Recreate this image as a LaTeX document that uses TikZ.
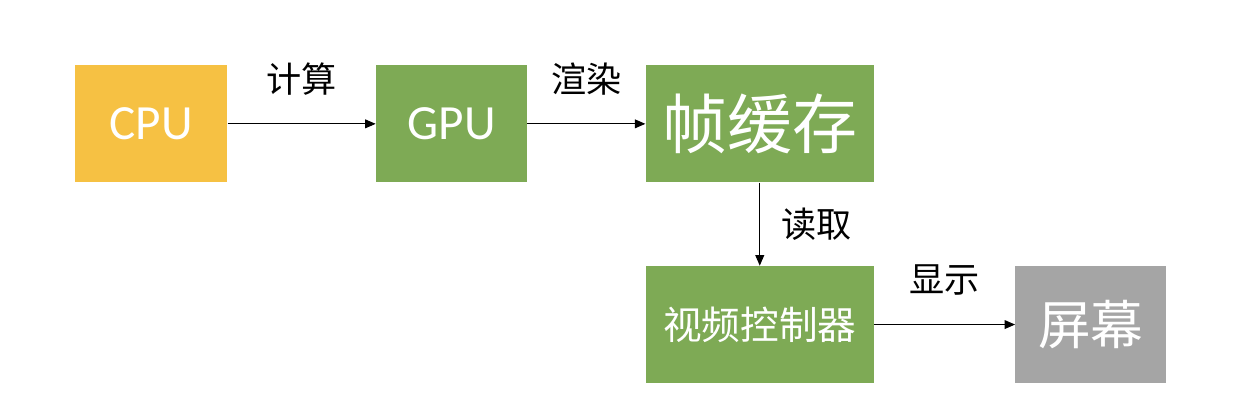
\documentclass[tikz,border=0pt]{standalone}
\usepackage{fontspec}
\setmainfont{Carlito}
\newfontfamily\cjk{Noto Sans CJK SC}
\usetikzlibrary{arrows.meta,positioning}
\definecolor{cpuorange}{RGB}{246,193,67}
\definecolor{stagegreen}{RGB}{126,170,85}
\definecolor{screengray}{RGB}{165,165,165}

\tikzset{
    stagebox/.style={rectangle, minimum height=2.34cm, inner sep=0pt, text=white},
    flow/.style={-{Triangle[length=6pt,width=5pt]}, line width=0.6pt},
    flowlabel/.style={font=\cjk\fontsize{20}{20}\selectfont}
}

\begin{document}
\begin{tikzpicture}
                \useasboundingbox (0,0) rectangle (25,-8.2);
                \node[stagebox, fill=cpuorange, minimum width=3.04cm, anchor=north west,
                      font=\fontsize{28}{28}\selectfont] (cpu) at (1.5,-1.3) {CPU};
                \node[stagebox, fill=stagegreen, minimum width=3.02cm, right=2.96cm of cpu,
                      font=\fontsize{28}{28}\selectfont] (gpu) {GPU};
                \node[stagebox, fill=stagegreen, minimum width=4.56cm, right=2.36cm of gpu,
                      font=\cjk\fontsize{37}{37}\selectfont] (framebuf) {帧缓存};
                \node[stagebox, fill=stagegreen, minimum width=4.56cm, below=1.66cm of framebuf,
                      font=\cjk\fontsize{22}{22}\selectfont] (videoctl) {视频控制器};
                \node[stagebox, fill=screengray, minimum width=3.02cm, right=2.82cm of videoctl,
                      font=\cjk\fontsize{30}{30}\selectfont] (screen) {屏幕};

                \draw[flow] (cpu) -- node[flowlabel, above=0.45cm] (calc) {计算} (gpu);
                \draw[flow] (gpu) -- node[flowlabel, above=0.45cm] (render) {渲染} (framebuf);
                \draw[flow] (framebuf) -- node[flowlabel, right=0.3cm] (readout) {读取} (videoctl);
                \draw[flow] (videoctl) -- node[flowlabel, above=0.45cm] (display) {显示} (screen);
        \end{tikzpicture}
\end{document}
